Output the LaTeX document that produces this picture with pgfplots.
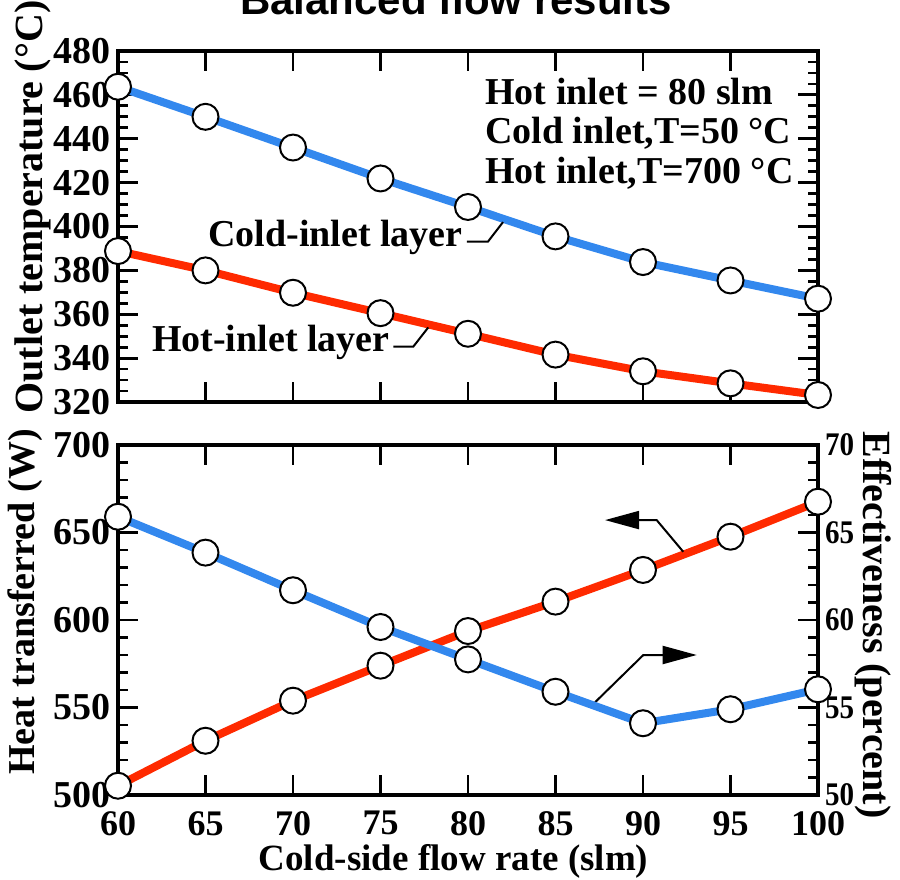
\documentclass[border=0pt]{standalone}
\usepackage{fontspec}
\setmainfont{Liberation Serif}
\newfontfamily\condserif[FakeStretch=0.88]{Liberation Serif}
\newfontfamily\titlefont{Liberation Sans}
\usepackage{graphicx}
\usepackage{pgfplots}
\pgfplotsset{compat=1.18}
\usetikzlibrary{arrows.meta}
\definecolor{coldline}{HTML}{3388EE}
\definecolor{hotline}{HTML}{FF2A00}

\pgfplotsset{
  panel/.style={
    scale only axis, width=350pt, xmin=60, xmax=100, clip=false,
    xtick={60,65,...,100},
    tick align=inside,
    axis line style={line width=1.8pt},
    major tick style={line width=1.4pt, black},
    minor tick style={line width=1.4pt, black},
    major tick length=10pt, minor tick length=5pt,
    /pgf/number format/assume math mode=true,
    yticklabel style={font=\bfseries\fontsize{19}{21}\selectfont},
    xticklabel style={font=\bfseries\fontsize{18}{20}\selectfont, inner sep=1pt, yshift=-7pt},
  },
  dataline/.style={line width=4pt, mark=*, mark size=6.5pt},
}
\tikzset{
  note/.style={anchor=base west, inner sep=0pt, font=\bfseries\fontsize{19}{21}\selectfont},
  dot/.style={fill=white, draw=black, line width=1pt},
}

\begin{document}
\begin{tikzpicture}
\pgfplotsset{set layers}

% top panel: outlet temperatures
\begin{axis}[panel, height=175.5pt,
    ymin=320, ymax=480, ytick={320,340,...,480}, minor y tick num=3,
    xticklabels={}]
  \addplot[dataline, color=coldline, mark options={dot}] coordinates {
    (60,463.7) (65,450.0) (70,436.0) (75,421.9) (80,408.9)
    (85,395.5) (90,383.8) (95,375.4) (100,367.1)};
  \addplot[dataline, color=hotline, mark options={dot}] coordinates {
    (60,388.8) (65,380.0) (70,369.8) (75,360.5) (80,351.1)
    (85,341.6) (90,334.0) (95,328.5) (100,323.2)};
  \node[note] at (axis cs:80.97,455.4) {Hot inlet = 80 slm};
  \node[note] at (axis cs:80.97,437.9) {Cold inlet,T=50 °C};
  \node[note] at (axis cs:80.97,419.7) {Hot inlet,T=700 °C};
  \node[note] at (axis cs:65.14,390.8) {Cold-inlet layer};
  \draw[line width=1pt] (axis cs:79.94,393.1) -- (axis cs:81.14,393.1) -- (axis cs:82.0,402);
  \node[note] at (axis cs:61.92,342.9) {Hot-inlet layer};
  \draw[line width=1pt] (axis cs:75.73,345.2) -- (axis cs:76.87,345.2) -- (axis cs:77.73,354);
\end{axis}

% bottom panel, left axis: heat transferred
\begin{axis}[panel, at={(0,-196.5pt)}, height=175pt,
    ymin=500, ymax=700, ytick={500,550,...,700}, minor y tick num=4,
    ytick pos=left]
  \addplot[dataline, color=hotline, mark options={dot}] coordinates {
    (60,505.3) (65,531.0) (70,553.9) (75,573.9) (80,593.7)
    (85,610.5) (90,628.6) (95,647.6) (100,667.6)};
  \draw[line width=1pt, -{Triangle[length=17pt,width=9pt]}]
    (axis cs:92.3,639) -- (axis cs:90.78,657.1) -- (axis cs:87.83,657.1);
  \draw[line width=1pt, -{Triangle[length=17pt,width=9pt]}]
    (axis cs:87.26,553) -- (axis cs:90.02,580) -- (axis cs:93.07,580);
\end{axis}

% bottom panel, right axis: effectiveness
\begin{axis}[panel, at={(0,-196.5pt)}, height=175pt,
    ymin=50, ymax=70, ytick={50,55,...,70}, minor y tick num=4,
    axis y line*=right, axis x line=none, ytick pos=right,
    yticklabel style={font=\condserif\bfseries\fontsize{16.5}{18}\selectfont}]
  \addplot[dataline, color=coldline, mark options={dot}] coordinates {
    (60,65.90) (65,63.85) (70,61.70) (75,59.60) (80,57.75)
    (85,55.90) (90,54.10) (95,54.90) (100,56.04)};
\end{axis}

\node[anchor=base, font=\titlefont\bfseries\fontsize{21}{24}\selectfont]
  at (169pt,193.5pt) {Balanced flow results};
\node[rotate=90, anchor=base, font=\bfseries\fontsize{20}{22}\selectfont]
  at (-37.5pt,97.5pt) {Outlet temperature (°C)};
\node[rotate=90, anchor=base, font=\bfseries\fontsize{19}{21}\selectfont]
  at (-41.5pt,-100pt) {Heat transferred (W)};
\node[rotate=-90, anchor=base, font=\bfseries\fontsize{20}{22}\selectfont]
  at (372.5pt,-111.5pt) {Effectiveness (percent)};
\node[anchor=base, inner sep=0pt, font=\bfseries\fontsize{18.5}{21}\selectfont]
  at (167.75pt,-234pt) {Cold-side flow rate (slm)};

\pgfresetboundingbox
\path[use as bounding box] (-59pt,-238.5pt) rectangle (391pt,201pt);
\end{tikzpicture}
\end{document}
